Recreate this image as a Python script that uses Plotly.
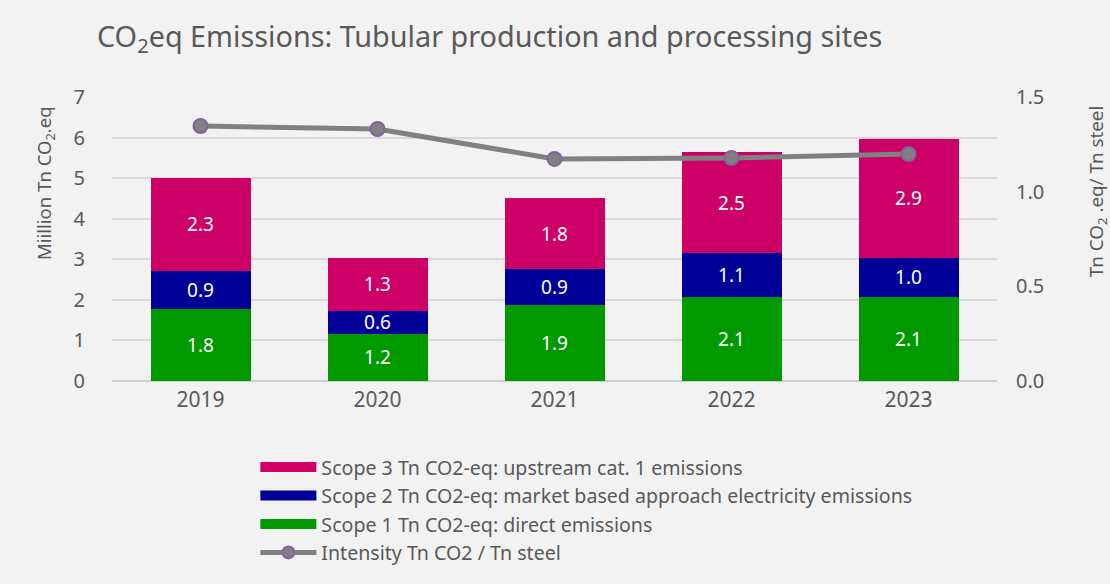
import plotly.graph_objects as go

years = ["2019", "2020", "2021", "2022", "2023"]
scope1 = [1.78, 1.16, 1.87, 2.07, 2.08]
scope2 = [0.94, 0.57, 0.89, 1.08, 0.96]
scope3 = [2.29, 1.31, 1.75, 2.49, 2.93]
intensity = [1.347, 1.331, 1.173, 1.178, 1.199]

names = ["Scope 3 Tn CO2-eq: upstream cat. 1 emissions",
         "Scope 2 Tn CO2-eq: market based approach electricity emissions",
         "Scope 1 Tn CO2-eq: direct emissions",
         "Intensity Tn CO2 / Tn steel"]
colors = ["#cc0066", "#000099", "#009900"]
left_title = "Miillion Tn CO<sub>2</sub>.eq"
right_title = "Tn CO<sub>2</sub> .eq/ Tn steel"

font_family = "Noto Sans"
txt = "#595959"

fig = go.Figure()
for vals, name, col in [(scope1, names[2], colors[2]), (scope2, names[1], colors[1]), (scope3, names[0], colors[0])]:
    fig.add_trace(go.Bar(x=years, y=vals, name=name, showlegend=False,
                         marker=dict(color=col, line=dict(width=0)),
                         text=[f"{v:.1f}" for v in vals], textposition="inside",
                         insidetextanchor="middle", textfont=dict(color="white", size=19)))

fig.add_trace(go.Scatter(x=years, y=intensity, name=names[3], yaxis="y2", showlegend=False,
                         mode="lines+markers", line=dict(color="#808080", width=5),
                         marker=dict(size=14, color="#808080", line=dict(color="#8064a2", width=2))))

# legend entries (wide rectangular swatches like the reference)
for i, (name, col) in enumerate(zip(names[:3], colors)):
    fig.add_trace(go.Scatter(x=[None], y=[None], name=name, mode="lines",
                             line=dict(color=col, width=13), legendrank=i + 1))
fig.add_trace(go.Scatter(x=[None], y=[None], name=names[3], mode="lines+markers", yaxis="y2",
                         line=dict(color="#808080", width=5),
                         marker=dict(size=12, color="#808080", line=dict(color="#8064a2", width=2)),
                         legendrank=4))

fig.update_layout(
    width=1110, height=584,
    barmode="stack", bargap=0.435,
    paper_bgcolor="#f2f2f2", plot_bgcolor="#f2f2f2",
    font=dict(family=font_family, color=txt),
    margin=dict(l=112, r=113, t=97, b=203),
    uniformtext=dict(minsize=19, mode="show"),
    title=dict(text="CO<sub>2</sub>eq Emissions: Tubular production and processing sites",
               x=0.0874, xanchor="left", y=0.9366, yanchor="middle",
               font=dict(size=28.8, color=txt, family=font_family)),
    xaxis=dict(tickfont=dict(size=21, color=txt), showgrid=False, ticks="", showline=False,
               ticklabelstandoff=4),
    yaxis=dict(range=[0, 7], dtick=1, tickfont=dict(size=20, color=txt),
               gridcolor="#d9d9d9", gridwidth=1.5, zeroline=True, zerolinecolor="#d0d0d0",
               zerolinewidth=1.5, ticks="", ticklen=0, ticklabelstandoff=26),
    yaxis2=dict(range=[0, 1.5], tickvals=[0, 0.5, 1.0, 1.5], ticktext=["0.0", "0.5", "1.0", "1.5"],
                overlaying="y", side="right", showgrid=False, zeroline=False,
                tickfont=dict(size=20, color=txt), ticks="", ticklabelstandoff=18),
    legend=dict(x=0.162, xanchor="left", y=-0.235, yanchor="top", traceorder="normal",
                font=dict(size=19.6, color=txt), itemwidth=56, tracegroupgap=0,
                bgcolor="rgba(0,0,0,0)"),
    annotations=[
        dict(text=left_title, xref="paper", yref="paper", x=-0.0757, y=0.697,
             xanchor="center", yanchor="middle", textangle=-90, showarrow=False,
             font=dict(size=18.5, color=txt)),
        dict(text=right_title, xref="paper", yref="paper", x=1.113, y=0.665,
             xanchor="center", yanchor="middle", textangle=-90, showarrow=False,
             font=dict(size=18.8, color=txt)),
    ],
)

fig.write_html("out.html", config={"displayModeBar": False},
               post_script="document.body.style.margin='0';document.body.style.overflow='hidden';")
